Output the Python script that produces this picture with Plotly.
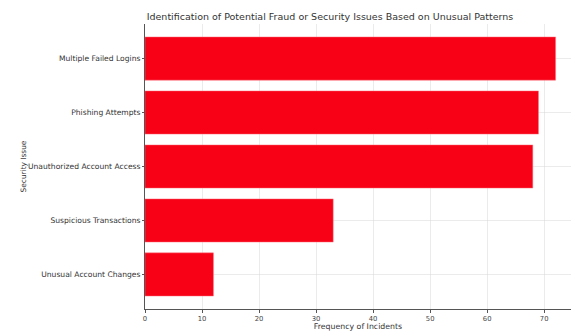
import plotly.graph_objects as go

# Security issues and how often each was observed
issues = [
    "Multiple Failed Logins",
    "Phishing Attempts",
    "Unauthorized Account Access",
    "Suspicious Transactions",
    "Unusual Account Changes",
]
incidents = [72, 69, 68, 33, 12]
x_ticks = [0, 10, 20, 30, 40, 50, 60, 70]

FONT = "DejaVu Sans"
BAR_RED = "rgb(248,0,22)"
AXIS_GRAY = "#555555"

fig = go.Figure(
    go.Bar(
        x=incidents,
        y=issues,
        orientation="h",
        width=0.8,
        marker=dict(color=BAR_RED, line=dict(color="rgba(255,120,130,0.8)", width=0.6)),
        hoverinfo="x+y",
    )
)

fig.update_layout(
    width=571,
    height=331,
    margin=dict(l=145, r=0, t=24, b=22),
    paper_bgcolor="white",
    plot_bgcolor="white",
    font=dict(family=FONT, size=7, color="#333333"),
    showlegend=False,
    title=dict(
        text="Identification of Potential Fraud or Security Issues Based on Unusual Patterns",
        x=330 / 571,
        xanchor="center",
        y=1 - 17 / 331,
        yanchor="middle",
        font=dict(family=FONT, size=9.5, color="#333333"),
    ),
)

fig.update_xaxes(
    range=[0, 74.7],
    tickvals=x_ticks,
    ticks="outside",
    ticklen=3,
    tickcolor=AXIS_GRAY,
    showline=True,
    linecolor=AXIS_GRAY,
    linewidth=1,
    showgrid=True,
    gridcolor="rgba(215,215,215,0.5)",
    gridwidth=0.6,
    zeroline=False,
    tickfont=dict(size=6.8, color="#444444"),
    title=dict(text="Frequency of Incidents", font=dict(size=7.8, color="#333333"), standoff=3),
    automargin=False,
)

fig.update_yaxes(
    categoryorder="array",
    categoryarray=issues[::-1],
    range=[-0.64, 4.64],
    ticks="outside",
    ticklen=2,
    tickcolor=AXIS_GRAY,
    showline=True,
    linecolor=AXIS_GRAY,
    linewidth=1,
    showgrid=True,
    gridcolor="rgba(215,215,215,0.5)",
    gridwidth=0.6,
    zeroline=False,
    tickfont=dict(size=7.6, color="#333333"),
    title=dict(text="Security Issue", font=dict(size=7.4, color="#333333"), standoff=0),
    automargin=False,
)

fig.write_html("out.html")
